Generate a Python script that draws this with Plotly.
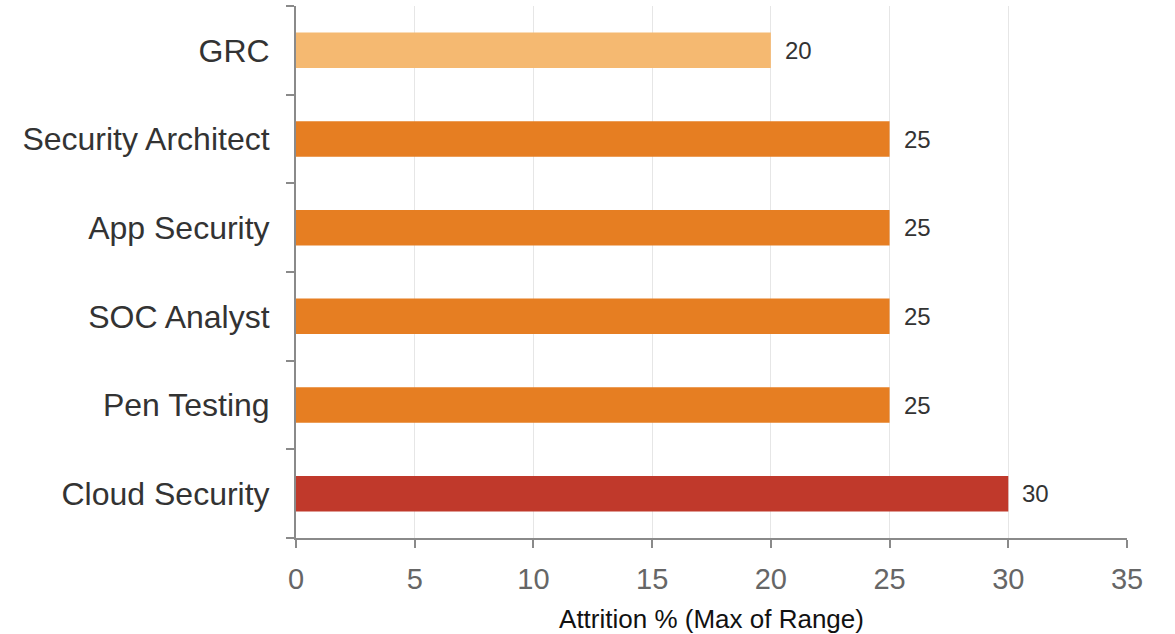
import plotly.graph_objects as go

# Attrition (max of range) by cybersecurity role, bottom to top
roles = ["Cloud Security", "Pen Testing", "SOC Analyst", "App Security",
         "Security Architect", "GRC"]
attrition = [30, 25, 25, 25, 25, 20]
bar_colors = ["#c0392b", "#e67e22", "#e67e22", "#e67e22", "#e67e22", "#f5b971"]

x_ticks = [0, 5, 10, 15, 20, 25, 30, 35]

FONT = "Liberation Sans, Arial, sans-serif"

fig = go.Figure(
    go.Bar(
        x=attrition,
        y=roles,
        orientation="h",
        marker=dict(color=bar_colors, line=dict(width=0)),
        width=0.4,
        hoverinfo="x+y",
    )
)

# value labels to the right of each bar
for role, val in zip(roles, attrition):
    fig.add_annotation(
        x=val, y=role, text=str(val), showarrow=False,
        xanchor="left", yanchor="middle", xshift=12,
        font=dict(family=FONT, size=24, color="#333333"),
    )

fig.update_layout(
    width=1175, height=634,
    margin=dict(l=296, r=48, t=6, b=96),
    plot_bgcolor="white", paper_bgcolor="white",
    showlegend=False,
    font=dict(family=FONT),
    xaxis=dict(
        range=[0, 35], tickvals=x_ticks, ticktext=[str(t) for t in x_ticks],
        showgrid=True, gridcolor="#e6e6e6", gridwidth=1,
        showline=True, linecolor="#8a8a8a", linewidth=2,
        ticks="outside", ticklen=8, tickwidth=2, tickcolor="#8a8a8a",
        ticklabelstandoff=6,
        tickfont=dict(family=FONT, size=29, color="#666666"),
        zeroline=False,
        title=dict(text="Attrition % (Max of Range)",
                   font=dict(family=FONT, size=26, color="#111111"),
                   standoff=16),
    ),
    yaxis=dict(
        categoryorder="array", categoryarray=roles,
        range=[-0.5, 5.5],
        showgrid=False,
        showline=True, linecolor="#8a8a8a", linewidth=2,
        ticks="outside", ticklen=8, tickwidth=2, tickcolor="#8a8a8a",
        tickson="boundaries",
        ticklabelstandoff=18,
        tickfont=dict(family=FONT, size=32, color="#333333"),
        zeroline=False,
    ),
)

fig.write_html("out.html")
